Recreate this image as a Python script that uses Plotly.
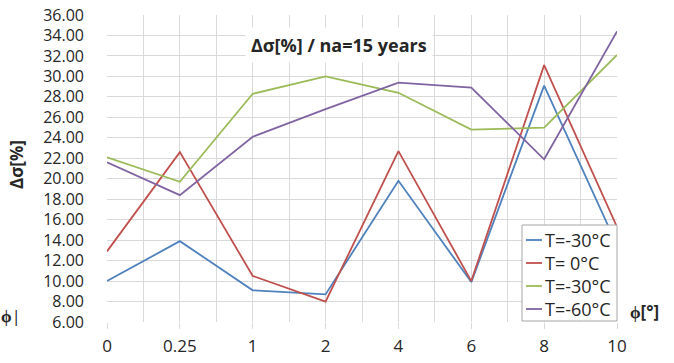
import plotly.graph_objects as go

categories = ["0", "0.25", "1", "2", "4", "6", "8", "10"]
series_names = ["T=-30°C", "T= 0°C", "T=-30°C", "T=-60°C"]
s_blue = [10.0, 13.9, 9.1, 8.7, 19.8, 9.9, 29.1, 13.5]
s_red = [12.9, 22.6, 10.5, 8.0, 22.7, 10.0, 31.1, 15.3]
s_green = [22.1, 19.7, 28.3, 30.0, 28.4, 24.8, 25.0, 32.1]
s_purple = [21.6, 18.4, 24.1, 26.8, 29.4, 28.9, 21.9, 34.4]
colors = ["#4F81BD", "#C0504D", "#9BBB59", "#8064A2"]
y_ticks = [6 + 2 * i for i in range(16)]

FONT = "Open Sans"
TXT = "#262626"
idx = list(range(len(categories)))

L, T, W, H = 107, 15, 510, 307  # plot area in pixels


def px(x):
    return (x - L) / W


def py(y):
    return (T + H - y) / H


fig = go.Figure()
for name, vals, col in zip(series_names, [s_blue, s_red, s_green, s_purple], colors):
    fig.add_trace(go.Scatter(x=idx, y=vals, mode="lines", name=name,
                             line=dict(color=col, width=1.8), showlegend=False))

grid = "#D9D9D9"
fig.update_layout(
    width=674, height=363,
    margin=dict(l=L, r=674 - L - W, t=T, b=363 - T - H),
    paper_bgcolor="white", plot_bgcolor="white",
    font=dict(family=FONT, size=17, color=TXT),
    showlegend=False,
    xaxis=dict(range=[0, len(categories) - 1], tickvals=idx, ticktext=categories,
               showgrid=True, gridcolor=grid, gridwidth=1,
               minor=dict(dtick=0.5, tick0=0, showgrid=True, gridcolor=grid, gridwidth=1),
               zeroline=False, showline=False,
               ticks="outside", ticklen=6, tickcolor=grid, ticklabelstandoff=3,
               tickfont=dict(size=17), fixedrange=True, automargin=False),
    yaxis=dict(range=[6, 36], tickvals=y_ticks,
               ticktext=[f"{v:.2f}" for v in y_ticks],
               showgrid=True, gridcolor=grid, gridwidth=1,
               zeroline=False, showline=False, ticks="", ticklabelstandoff=22,
               tickfont=dict(size=16), fixedrange=True, automargin=False),
)

# Title and axis labels
fig.add_annotation(text="<b>Δσ[%] / na=15 years</b>", xref="paper", yref="paper",
                   x=px(339), y=py(45), xanchor="center", yanchor="middle",
                   showarrow=False, font=dict(size=18, family=FONT, color=TXT),
                   bgcolor="white", borderpad=5)
fig.add_annotation(text="<b>Δσ[%]</b>", xref="paper", yref="paper",
                   x=px(16), y=py(165), xanchor="center", yanchor="middle",
                   textangle=-90, showarrow=False,
                   font=dict(size=17, family=FONT, color=TXT))
fig.add_annotation(text="<b>ϕ[°]</b>", xref="paper", yref="paper",
                   x=px(628), y=py(311), xanchor="left", yanchor="middle",
                   showarrow=False, font=dict(size=17, family=FONT, color=TXT))
fig.add_annotation(text="<b>ϕ</b>|", xref="paper", yref="paper",
                   x=px(-1), y=py(315), xanchor="left", yanchor="middle",
                   showarrow=False, font=dict(size=17, family=FONT, color=TXT))

# Legend (drawn to match the compact original layout)
fig.add_shape(type="rect", xref="paper", yref="paper",
              x0=px(522), x1=px(617), y0=py(321), y1=py(225),
              fillcolor="white", line=dict(color="#A6A6A6", width=1), layer="above")
row_y = [240, 263, 286, 309]
for name, col, ry in zip(series_names, colors, row_y):
    fig.add_shape(type="line", xref="paper", yref="paper",
                  x0=px(526), x1=px(542), y0=py(ry), y1=py(ry),
                  line=dict(color=col, width=1.8), layer="above")
    fig.add_annotation(text=name, xref="paper", yref="paper",
                       x=px(543), y=py(ry), xanchor="left", yanchor="middle",
                       showarrow=False, font=dict(size=18, family=FONT, color=TXT))

fig.write_html("out.html")
